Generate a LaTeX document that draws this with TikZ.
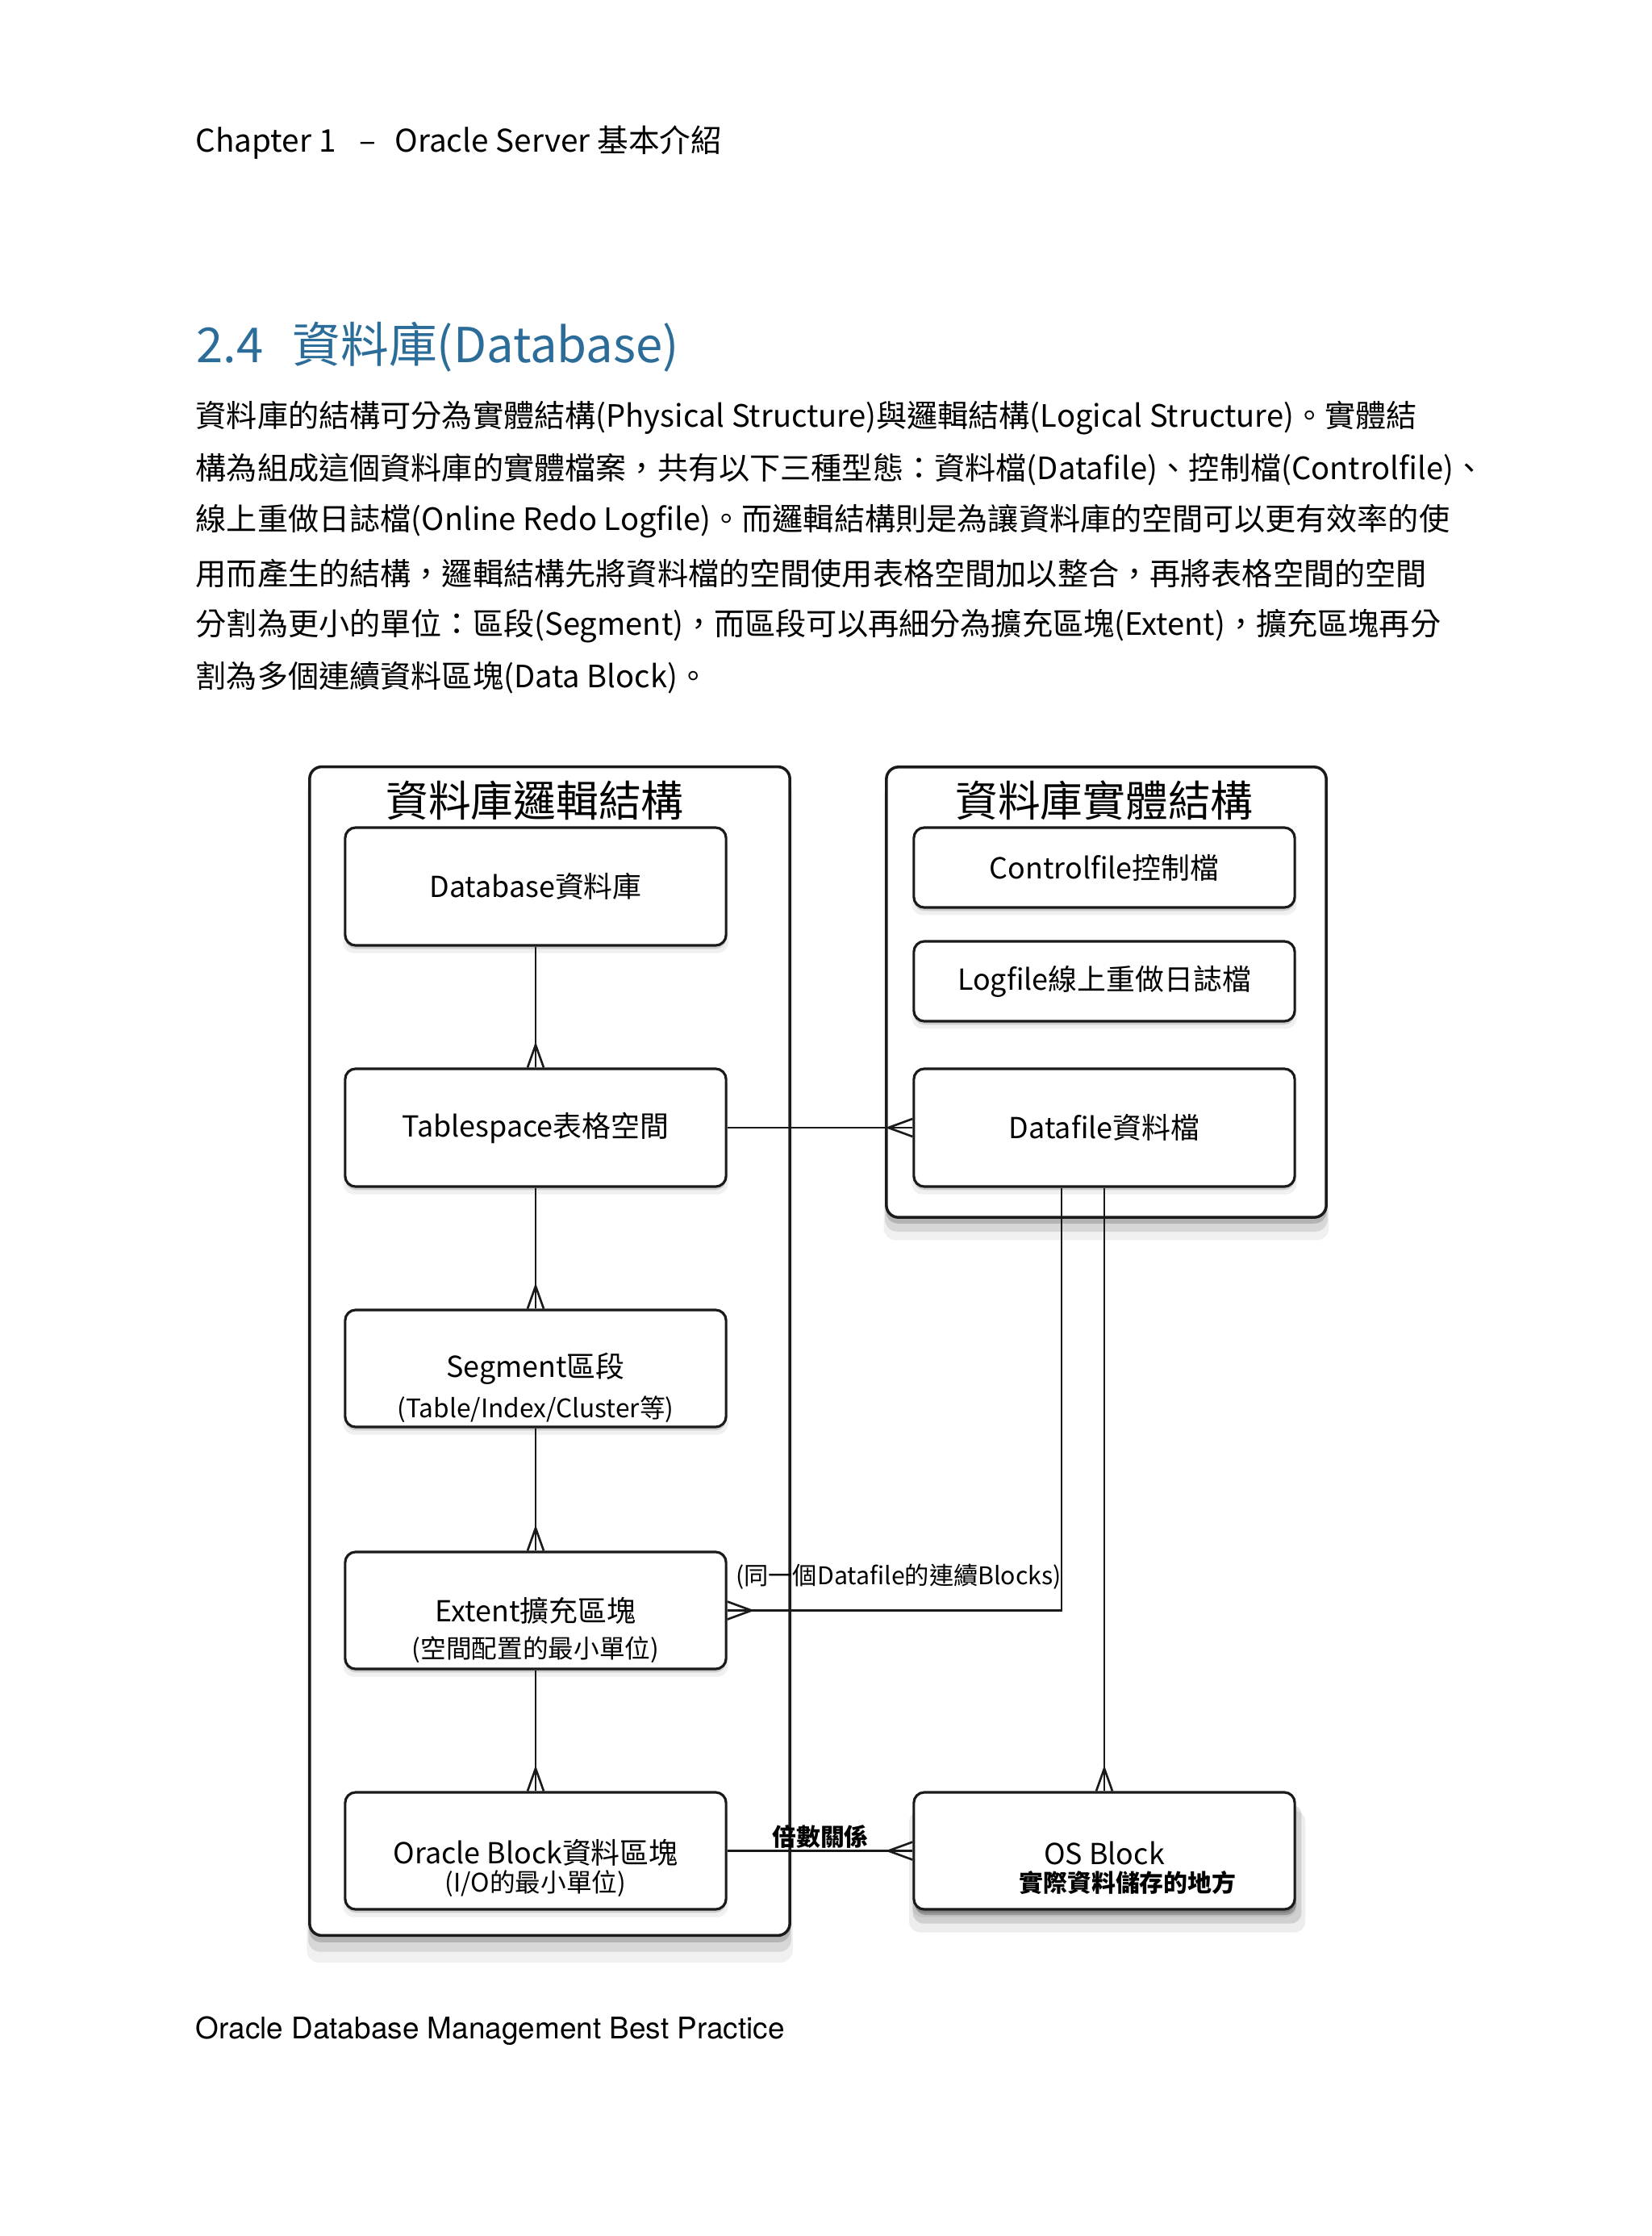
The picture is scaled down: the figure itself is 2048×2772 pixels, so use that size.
\documentclass[tikz,border=0pt]{standalone}
\usepackage{fontspec}
\setmainfont{Noto Sans CJK TC}
\newfontfamily\footfont{TeX Gyre Heros}
\usetikzlibrary{shadows}
\definecolor{titleblue}{HTML}{2C6C99}
\definecolor{ink}{HTML}{1A1A1A}
\tikzset{
  softshadow/.style={
    drop shadow={shadow xshift=0pt,shadow yshift=-2pt,shadow scale=1.002,opacity=0.16,fill=black},
    drop shadow={shadow xshift=0pt,shadow yshift=-4.5pt,shadow scale=1.006,opacity=0.10,fill=black},
    drop shadow={shadow xshift=0pt,shadow yshift=-7pt,shadow scale=1.012,opacity=0.06,fill=black}},
  strongshadow/.style={
    drop shadow={shadow xshift=0.5pt,shadow yshift=-2pt,opacity=0.22,fill=black},
    drop shadow={shadow xshift=1pt,shadow yshift=-4.5pt,shadow scale=1.02,opacity=0.12,fill=black},
    drop shadow={shadow xshift=1pt,shadow yshift=-7pt,shadow scale=1.04,opacity=0.07,fill=black}},
  lightshadow/.style={
    drop shadow={shadow xshift=0pt,shadow yshift=-1.2pt,opacity=0.14,fill=black},
    drop shadow={shadow xshift=0pt,shadow yshift=-2.5pt,shadow scale=1.01,opacity=0.06,fill=black}},
  frame/.style={draw=ink, line width=1pt, rounded corners=0.15cm, fill=white, inner sep=0pt, softshadow},
  box/.style={draw=ink, line width=0.9pt, rounded corners=0.13cm, fill=white, inner sep=0pt,
    minimum width=4.72cm, font=\fontsize{10.2}{12}\selectfont, lightshadow},
  link/.style={draw=ink, line width=0.75pt},
  note/.style={inner sep=0pt, font=\fontsize{8.6}{10}\selectfont},
  subtext/.style={inner sep=0pt, font=\fontsize{9}{11}\selectfont},
  frametitle/.style={inner sep=0pt, font=\fontsize{15}{17}\selectfont},
  bodytext/.style={anchor=west, inner sep=0pt, font=\fontsize{10.85}{13}\selectfont},
}
\begin{document}
\begin{tikzpicture}[x=0.01cm, y=-0.01cm]
\useasboundingbox[fill=white] (0,0) rectangle (2048,2772);

% page texts
\node[anchor=west, inner sep=0pt, font=\fontsize{11}{13}\selectfont] (header) at (242,177)
  {Chapter 1\hspace{0.75em}–\hspace{0.6em}Oracle Server 基本介紹};
\node[anchor=west, inner sep=0pt, text=titleblue, font=\fontsize{17}{20}\selectfont] (title) at (243,430)
  {2.4\hspace{0.6em}資料庫(Database)};
\node[bodytext] (p1) at (242,518) {資料庫的結構可分為實體結構(Physical Structure)與邏輯結構(Logical Structure)。實體結};
\node[bodytext] (p2) at (242,582) {構為組成這個資料庫的實體檔案，共有以下三種型態：資料檔(Datafile)、控制檔(Controlfile)、};
\node[bodytext] (p3) at (242,646) {線上重做日誌檔(Online Redo Logfile)。而邏輯結構則是為讓資料庫的空間可以更有效率的使};
\node[bodytext] (p4) at (242,711) {用而產生的結構，邏輯結構先將資料檔的空間使用表格空間加以整合，再將表格空間的空間};
\node[bodytext] (p5) at (242,776) {分割為更小的單位：區段(Segment)，而區段可以再細分為擴充區塊(Extent)，擴充區塊再分};
\node[bodytext] (p6) at (242,840) {割為多個連續資料區塊(Data Block)。};
\node[anchor=west, inner sep=0pt, font=\footfont\fontsize{10.5}{12}\selectfont] (footer) at (242,2518)
  {Oracle Database Management Best Practice};

% containers
\node[frame, minimum width=5.95cm, minimum height=14.48cm] (logic) at (681.5,1675) {};
\node[frame, minimum width=5.45cm, minimum height=5.58cm] (phys) at (1371.5,1230) {};
\node[frametitle] (logict) at (663,992) {資料庫邏輯結構};
\node[frametitle] (physt) at (1369,992) {資料庫實體結構};

% logical boxes
\node[box, minimum height=1.46cm] (db) at (664,1099) {Database資料庫};
\node[box, minimum height=1.46cm] (ts) at (664,1398) {Tablespace表格空間};
\node[box, minimum height=1.45cm] (seg) at (664,1696.5) {};
\node[box, minimum height=1.45cm] (ext) at (664,1996.5) {};
\node[box, minimum height=1.45cm] (ob) at (664,2294.5) {};
\node[inner sep=0pt, font=\fontsize{10.2}{12}\selectfont] (segt) at (664,1697) {Segment區段};
\node[subtext] (segs) at (664,1747) {(Table/Index/Cluster等)};
\node[inner sep=0pt, font=\fontsize{10.2}{12}\selectfont] (extt) at (664,1997) {Extent擴充區塊};
\node[subtext] (exts) at (664,2045) {(空間配置的最小單位)};
\node[inner sep=0pt, font=\fontsize{10.2}{12}\selectfont] (obt) at (664,2297) {Oracle Block資料區塊};
\node[subtext] (obs) at (664,2335) {(I/O的最小單位)};

% physical boxes
\node[box, minimum height=0.99cm] (cf) at (1369,1075.5) {Controlfile控制檔};
\node[box, minimum height=0.99cm] (lf) at (1369,1216.5) {Logfile線上重做日誌檔};
\node[box, minimum height=1.46cm] (df) at (1369,1398) {Datafile資料檔};
\node[box, strongshadow, minimum height=1.45cm] (os) at (1369,2294.5) {};
\node[inner sep=0pt, font=\fontsize{10.2}{12}\selectfont] (ost) at (1369,2297) {OS Block};
\node[note, font=\bfseries\fontsize{8.5}{10}\selectfont] (oss) at (1398,2334) {實際資料儲存的地方};

% connectors
\draw[link] (db.south) -- (ts.north);
\draw[link] (ts.south) -- (seg.north);
\draw[link] (seg.south) -- (ext.north);
\draw[link] (ext.south) -- (ob.north);
\draw[link] (ts.east) -- (df.west);
\draw[link] ([xshift=-0.53cm]df.south) |- (ext.east);
\draw[link] (df.south) -- (os.north);
\draw[link] (ob.east) -- (os.west);

% crow's feet
\foreach \n in {ts,seg,ext,ob,os}{
  \draw[link] ([xshift=-0.10cm]\n.north) -- ([yshift=0.28cm]\n.north) -- ([xshift=0.10cm]\n.north);
}
\draw[link] ([yshift=-0.11cm]df.west) -- ([xshift=-0.30cm]df.west) -- ([yshift=0.11cm]df.west);
\draw[link] ([yshift=-0.11cm]os.west) -- ([xshift=-0.30cm]os.west) -- ([yshift=0.11cm]os.west);
\draw[link] ([yshift=-0.11cm]ext.east) -- ([xshift=0.30cm]ext.east) -- ([yshift=0.11cm]ext.east);

% connector labels
\node[note] (lblext) at (1114,1955) {(同一個Datafile的連續Blocks)};
\node[note, font=\bfseries\fontsize{8.5}{10}\selectfont] (lblos) at (1017,2277) {倍數關係};
\end{tikzpicture}
\end{document}
